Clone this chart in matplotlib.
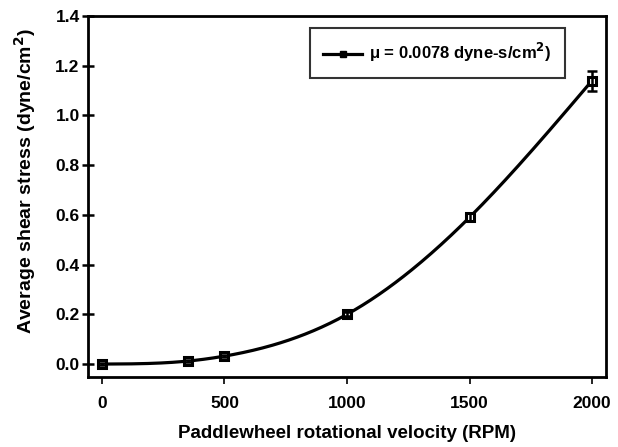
import numpy as np
import matplotlib
matplotlib.use("Agg")
import matplotlib.pyplot as plt

rpm = [0, 350, 500, 1000, 1500, 2000]
stress = [0.0, 0.012, 0.032, 0.200, 0.590, 1.140]
stress_err = [0.004, 0.004, 0.005, 0.008, 0.016, 0.040]
x_ticks = [0, 500, 1000, 1500, 2000]
y_ticks = [0.0, 0.2, 0.4, 0.6, 0.8, 1.0, 1.2, 1.4]
legend_label = "μ = 0.0078 dyne-s/cm$^\\mathbf{2}$)"

plt.rcParams['font.family'] = ['Liberation Sans', 'DejaVu Sans']
plt.rcParams['font.weight'] = 'bold'
plt.rcParams['mathtext.default'] = 'bf'

fig = plt.figure(figsize=(6.18, 4.47), dpi=100)
ax = fig.add_axes([88/618, 1-377/447, (606-88)/618, (377-16)/447])

# natural cubic spline for a smooth connecting line
def natural_spline(x, y, n=300):
    x = np.asarray(x, float); y = np.asarray(y, float)
    k = len(x); h = np.diff(x)
    A = np.zeros((k, k)); b = np.zeros(k)
    A[0, 0] = A[-1, -1] = 1
    for i in range(1, k-1):
        A[i, i-1] = h[i-1]; A[i, i] = 2*(h[i-1]+h[i]); A[i, i+1] = h[i]
        b[i] = 3*((y[i+1]-y[i])/h[i] - (y[i]-y[i-1])/h[i-1])
    c = np.linalg.solve(A, b)
    xs = np.linspace(x[0], x[-1], n); ys = np.empty_like(xs)
    for j, xv in enumerate(xs):
        i = min(np.searchsorted(x, xv, side='right')-1, k-2)
        d = xv - x[i]
        bb = (y[i+1]-y[i])/h[i] - h[i]*(2*c[i]+c[i+1])/3
        dd = (c[i+1]-c[i])/(3*h[i])
        ys[j] = y[i] + bb*d + c[i]*d**2 + dd*d**3
    return xs, ys

xs, ys = natural_spline(rpm, stress)
ax.plot(xs, ys, color='black', lw=2.3, zorder=2)
ax.plot(rpm, stress, ls='none', marker='s', ms=5.5, mfc='white', mec='black',
        mew=2.2, zorder=4)
ax.errorbar(rpm, stress, yerr=stress_err, fmt='none', ecolor='black',
            elinewidth=1.8, capsize=3.5, capthick=1.8, zorder=5)

# legend handle
ax.plot([], [], color='black', lw=2.3, marker='s', ms=5, mfc='black',
        mec='black', label=legend_label)
leg = ax.legend(loc='upper right', bbox_to_anchor=((565-88)/518, (377-28)/361),
                frameon=True, fancybox=False, edgecolor='black',
                handlelength=2.3, handletextpad=0.45, borderpad=0.8,
                borderaxespad=0, prop={'weight': 'bold', 'size': 12})
leg.get_frame().set_linewidth(1.5)

ax.set_xlim(-57, 2057)
ax.set_ylim(-0.052, 1.4)
ax.set_xticks(x_ticks)
ax.set_yticks(y_ticks)
ax.set_yticklabels([f"{v:.1f}" for v in y_ticks])
ax.tick_params(axis='x', direction='out', length=5, width=1.2, labelsize=12.5, pad=9)
ax.tick_params(axis='y', direction='inout', length=8, width=1.8, labelsize=12.5, pad=2)
for s in ax.spines.values():
    s.set_linewidth(2)
ax.set_xlabel("Paddlewheel rotational velocity (RPM)", fontsize=13.5,
              fontweight='bold', va='top')
ax.xaxis.set_label_coords(0.5, (377-425)/361)
ax.set_ylabel("Average shear stress (dyne/cm$^\\mathbf{2}$)", fontsize=14,
              fontweight='bold', va='center')
ax.yaxis.set_label_coords((25-88)/518, (377-181)/361)

fig.savefig("out.png", dpi=100)
